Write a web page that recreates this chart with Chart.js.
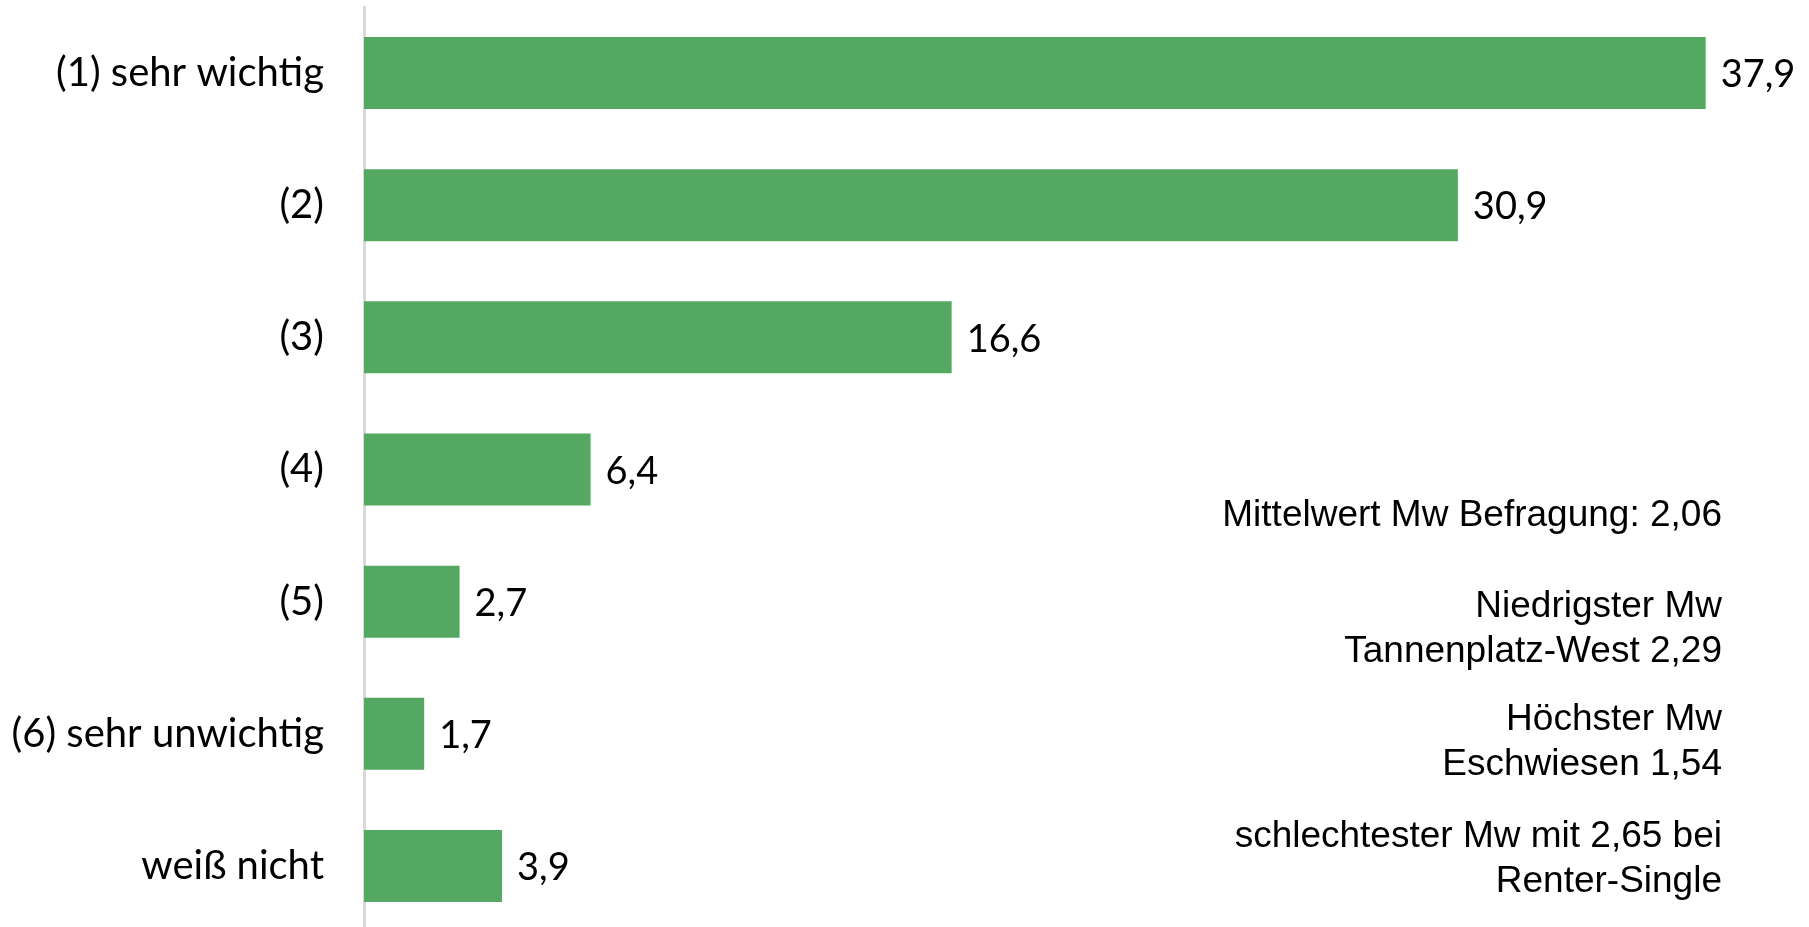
<!DOCTYPE html>
<html lang="de">
<head>
<meta charset="utf-8">
<title>Wichtigkeit</title>
<script src="https://cdn.jsdelivr.net/npm/chart.js@4.4.1/dist/chart.umd.min.js"></script>
<style>
  html, body { margin: 0; padding: 0; background: #fff; overflow: hidden; }
  #wrap { position: relative; width: 1809px; height: 932px; }
</style>
</head>
<body>
<div id="wrap"><canvas id="chart"></canvas></div>
<script>
  // data
  var categories = ['(1) sehr wichtig', '(2)', '(3)', '(4)', '(5)', '(6) sehr unwichtig', 'weiß nicht'];
  var values = [37.9, 30.9, 16.6, 6.4, 2.7, 1.7, 3.9];
  var noteLines = [
    ['Mittelwert Mw Befragung: 2,06'],
    ['Niedrigster Mw', 'Tannenplatz-West 2,29'],
    ['Höchster Mw', 'Eschwiesen 1,54'],
    ['schlechtester Mw mit 2,65 bei', 'Renter-Single']
  ];

  var BAR_COLOR = '#55a862';
  var LABEL_FONT = 'Lato, "Open Sans", sans-serif';

  /* value labels at bar ends, german decimal comma */
  var valueLabels = {
    id: 'valueLabels',
    afterDatasetsDraw: function (chart) {
      var ctx = chart.ctx;
      var meta = chart.getDatasetMeta(0);
      ctx.save();
      ctx.font = '38px ' + LABEL_FONT;
      ctx.fillStyle = '#000';
      ctx.textAlign = 'left';
      ctx.textBaseline = 'middle';
      meta.data.forEach(function (bar, i) {
        ctx.fillText(values[i].toFixed(1).replace('.', ','), bar.x + 15, bar.y + 2);
      });
      ctx.restore();
    }
  };

  /* text block on the right */
  var notes = {
    id: 'notes',
    afterDraw: function (chart) {
      var ctx = chart.ctx;
      var right = 1722;
      var starts = [526, 617, 730, 847];
      ctx.save();
      ctx.font = '37px "Liberation Sans", Arial, sans-serif';
      ctx.fillStyle = '#000';
      ctx.textAlign = 'right';
      ctx.textBaseline = 'alphabetic';
      noteLines.forEach(function (group, g) {
        group.forEach(function (line, j) {
          ctx.fillText(line, right, starts[g] + j * 45);
        });
      });
      ctx.restore();
    }
  };

  new Chart(document.getElementById('chart'), {
    type: 'bar',
    data: {
      labels: categories,
      datasets: [{ data: values, backgroundColor: BAR_COLOR, borderWidth: 0, categoryPercentage: 1, barPercentage: 0.545 }]
    },
    options: {
      indexAxis: 'y',
      responsive: true,
      maintainAspectRatio: false,
      animation: false,
      layout: { padding: { top: 7, right: 29, bottom: 0, left: 0 } },
      plugins: { legend: { display: false }, tooltip: { enabled: false } },
      scales: {
        x: { display: false, min: 0, max: 40 },
        y: {
          grid: { display: true, color: 'transparent', drawTicks: false },
          border: { display: true, color: '#d9d9d9', width: 3 },
          ticks: { color: '#000', padding: 40, font: { family: LABEL_FONT, size: 40 } },
          afterFit: function (scale) {
            scale.width = 364;
            scale.paddingTop = 0;
            scale.paddingBottom = 0;
          }
        }
      }
    },
    plugins: [valueLabels, notes]
  });
</script>
</body>
</html>
